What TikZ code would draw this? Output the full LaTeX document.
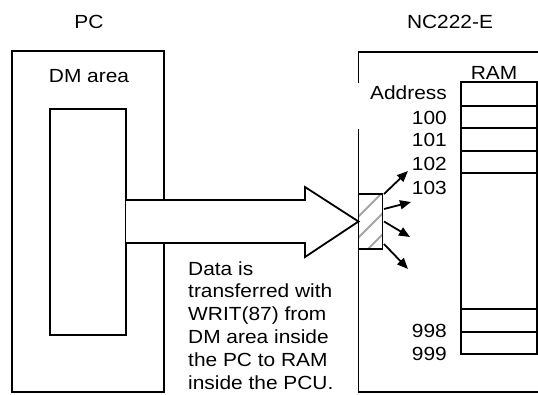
\documentclass[tikz,border=0pt]{standalone}
\usepackage{fontspec}
\setmainfont{Liberation Sans}[FakeStretch=1.1]
\usepackage{tikz}
\usetikzlibrary{positioning,arrows.meta,calc}

\begin{document}
\begin{tikzpicture}[x=1pt,y=-1pt,
  box/.style={draw=black,line width=1.8pt,inner sep=0pt,outer sep=0pt,anchor=north west},
  edge/.style={line width=1.8pt},
  txt/.style={font=\fontsize{19}{22.8}\selectfont,inner sep=0pt},
  addr/.style={txt,anchor=base east},
  big/.style={draw=black,fill=white,line width=1.8pt,line join=miter},
  pa/.style={-{Triangle[length=11pt,width=9pt]},line width=1.8pt},
  hatch/.style={gray!70,line width=1.8pt}]
\useasboundingbox (0,0) rectangle (538,394);
\node[box,minimum width=152pt,minimum height=341pt] (pc) at (12,51) {};
\node[box,minimum width=76pt,minimum height=226pt] (dm) at (50,109) {};
\draw[edge] (540,52) -- (358.5,52) -- (358.5,83);
\draw[edge] (358.5,129) -- (358.5,392) -- (540,392);
\node[box,minimum width=76pt,minimum height=272pt] (ram) at (461,82) {};
\foreach \r in {106,128,151,173,309,332}
  \draw[edge] (ram.west |- 0,\r) -- (ram.east |- 0,\r);
\node[box,fill=white,minimum width=24pt,minimum height=55pt] (port) at (358.5,194) {};
\draw[big] (dm.east |- 0,200) -- (305,200) -- (305,187) -- (port.west)
  -- (305,257) -- (305,243) -- (dm.east |- 0,243);
\begin{scope}
  \clip (port.south west) rectangle (port.north east);
  \foreach \c in {575,596,617}
    \draw[hatch] (340,\c-340) -- (400,\c-400);
\end{scope}
\draw[edge] (port.south west) rectangle (port.north east);
\draw[pa] ([shift={(1.5,0)}]port.north east) -- (408,171);
\draw[pa] ([shift={(1.5,-12.5)}]port.east) -- (411,202);
\draw[pa] ([shift={(1.5,0)}]port.east) -- (410,237);
\draw[pa] ([shift={(1.5,-5)}]port.south east) -- (408,269);
\node[txt,anchor=base] (pctitle) at (89,28) {PC};
\node[txt,anchor=base] (nctitle) at (450,28) {NC222-E};
\node[txt,anchor=base] (dmlbl) at (89,82) {DM area};
\node[txt,anchor=base] (ramlbl) at (494,79) {RAM};
\node[addr] (a0) at (447,99) {Address};
\node[addr] (a100) at (447,124) {100};
\node[addr] (a101) at (447,146) {101};
\node[addr] (a102) at (447,170) {102};
\node[addr] (a103) at (447,194) {103};
\node[addr] (a998) at (447,337) {998};
\node[addr] (a999) at (447,360) {999};
\node[txt,anchor=base west,align=left] (note) at (188,389)
  {Data is\\transferred with\\WRIT(87) from\\DM area inside\\the PC to RAM\\inside the PCU.};
\end{tikzpicture}
\end{document}
